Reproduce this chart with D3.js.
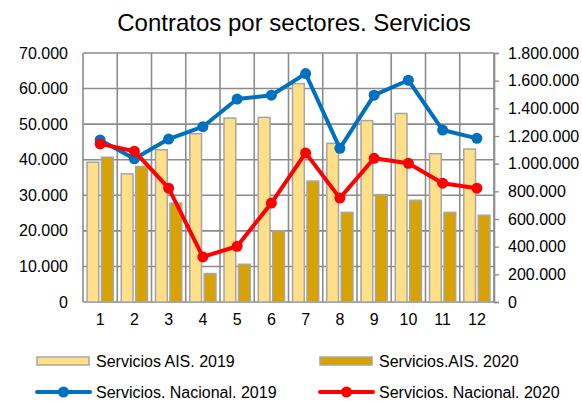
<!DOCTYPE html>
<html>
<head>
<meta charset="utf-8">
<script src="https://cdn.jsdelivr.net/npm/d3@7"></script>
<style>
    body { margin: 0; background: #fff; }
    text { font-family: "Liberation Sans", Arial, sans-serif; fill: #000; }
</style>
</head>
<body>
<div id="chart"></div>
<script>
// data
const months = ['1', '2', '3', '4', '5', '6', '7', '8', '9', '10', '11', '12'];
const ais2019 = [39300, 36000, 42800, 47300, 51700, 51900, 61400, 44600, 51000, 53000, 41700, 43000];
const ais2020 = [40700, 38100, 27800, 8000, 10600, 20000, 34000, 25200, 30200, 28600, 25200, 24400];
const nac2019 = [1171000, 1035000, 1178000, 1267000, 1467000, 1495000, 1651000, 1111000, 1495000, 1603000, 1243000, 1183000];
const nac2020 = [1143000, 1090000, 823000, 326000, 403000, 715000, 1078000, 751000, 1039000, 1003000, 859000, 823000];
const leftTicks = [0, 10000, 20000, 30000, 40000, 50000, 60000, 70000];
const rightTicks = [0, 200000, 400000, 600000, 800000, 1000000, 1200000, 1400000, 1600000, 1800000];

const width = 582, height = 401;
// plot box
let px0 = 83, px1 = 494, py0 = 53, py1 = 302;

let svg = d3.select('#chart')
    .append('svg')
    .attr('width', width)
    .attr('height', height)
;

// numbers like 70.000 / 1.800.000
let fmt = function (v) {
    return d3.format(',')(v).replace(/,/g, '.');
};

let x = d3.scaleBand()
    .domain(months)
    .range([px0, px1])
    .padding(0)
;
let xInner = d3.scaleBand()
    .domain(['a', 'b'])
    .range([0, x.bandwidth()])
    .paddingInner(0.1875)
    .paddingOuter(0.278)
;
let yL = d3.scaleLinear().domain([0, 70000]).range([py1, py0]);
let yR = d3.scaleLinear().domain([0, 1800000]).range([py1, py0]);

// title
svg.append('text')
    .attr('x', 294)
    .attr('y', 31)
    .attr('text-anchor', 'middle')
    .style('font-size', '24px')
    .text('Contratos por sectores. Servicios')
;

// horizontal grid
svg.append('g')
    .selectAll('line')
    .data(leftTicks)
    .enter()
    .append('line')
    .attr('x1', px0)
    .attr('x2', px1)
    .attr('y1', d => yL(d))
    .attr('y2', d => yL(d))
    .style('stroke', '#8c8c8c')
    .style('stroke-width', 1.6)
;
// vertical grid at category edges
let edges = months.map(m => x(m)).concat([px1]);
svg.append('g')
    .selectAll('line')
    .data(edges)
    .enter()
    .append('line')
    .attr('x1', d => d)
    .attr('x2', d => d)
    .attr('y1', py0)
    .attr('y2', py1)
    .style('stroke', '#8c8c8c')
    .style('stroke-width', 1.6)
;

// left axis
let axL = svg.append('g')
    .attr('transform', `translate(${px0},0)`)
    .call(d3.axisLeft(yL).tickValues(leftTicks).tickFormat(fmt).tickSize(0).tickPadding(15))
;
axL.select('.domain').remove();
axL.selectAll('text').style('font-size', '16px').attr('fill', '#000');

// right axis
let axR = svg.append('g')
    .attr('transform', `translate(${px1},0)`)
    .call(d3.axisRight(yR).tickValues(rightTicks).tickFormat(fmt).tickSize(5).tickPadding(9))
;
axR.select('.domain').attr('stroke', '#8c8c8c').attr('stroke-width', 1.6);
axR.selectAll('line').attr('stroke', '#8c8c8c').attr('stroke-width', 1.3);
axR.selectAll('text').style('font-size', '16px').attr('fill', '#000');

// bottom labels
let axB = svg.append('g')
    .attr('transform', `translate(0,${py1})`)
    .call(d3.axisBottom(x).tickSize(0).tickPadding(12))
;
axB.select('.domain').remove();
axB.selectAll('text').style('font-size', '16px').attr('fill', '#000');

// bars
let barSeries = [
    {key: 'a', vals: ais2019, col: '#ffdf87'},
    {key: 'b', vals: ais2020, col: '#d8a300'}
];
barSeries.forEach(function (s) {
    svg.append('g')
        .selectAll('rect')
        .data(s.vals)
        .enter()
        .append('rect')
        .attr('x', (d, i) => x(months[i]) + xInner(s.key))
        .attr('y', d => yL(d))
        .attr('width', xInner.bandwidth())
        .attr('height', d => py1 - yL(d))
        .style('fill', s.col)
        .style('stroke', '#a6a6a6')
        .style('stroke-width', 1.5)
    ;
});

// lines
let lineSeries = [
    {vals: nac2019, col: '#0070c0'},
    {vals: nac2020, col: '#ff0000'}
];
let cx = (d, i) => x(months[i]) + x.bandwidth() / 2;
lineSeries.forEach(function (s) {
    let line = d3.line()
        .x(cx)
        .y(d => yR(d))
    ;
    svg.append('path')
        .datum(s.vals)
        .attr('d', line)
        .style('fill', 'none')
        .style('stroke', s.col)
        .style('stroke-width', 4)
        .style('stroke-linejoin', 'round')
    ;
    svg.append('g')
        .selectAll('circle')
        .data(s.vals)
        .enter()
        .append('circle')
        .attr('cx', cx)
        .attr('cy', d => yR(d))
        .attr('r', 5.5)
        .style('fill', s.col)
    ;
});

// legend
let legend = [
    {label: 'Servicios AIS. 2019', type: 'bar', col: '#ffdf87', lx: 37, ly: 361},
    {label: 'Servicios.AIS. 2020', type: 'bar', col: '#d8a300', lx: 320, ly: 361},
    {label: 'Servicios. Nacional. 2019', type: 'line', col: '#0070c0', lx: 37, ly: 392},
    {label: 'Servicios. Nacional. 2020', type: 'line', col: '#ff0000', lx: 320, ly: 392}
];
let lg = svg.append('g');
legend.forEach(function (d) {
    if (d.type == 'bar') {
        lg.append('rect')
            .attr('x', d.lx)
            .attr('y', d.ly - 4)
            .attr('width', 52)
            .attr('height', 8)
            .style('fill', d.col)
            .style('stroke', '#a6a6a6')
            .style('stroke-width', 1.5)
        ;
    }
    else {
        lg.append('line')
            .attr('x1', d.lx)
            .attr('x2', d.lx + 53)
            .attr('y1', d.ly)
            .attr('y2', d.ly)
            .style('stroke', d.col)
            .style('stroke-width', 4)
            .style('stroke-linecap', 'round')
        ;
        lg.append('circle')
            .attr('cx', d.lx + 26.5)
            .attr('cy', d.ly)
            .attr('r', 5.5)
            .style('fill', d.col)
        ;
    }
    lg.append('text')
        .attr('x', d.lx + 59)
        .attr('y', d.ly + 5.5)
        .style('font-size', '16px')
        .text(d.label)
    ;
});
</script>
</body>
</html>
